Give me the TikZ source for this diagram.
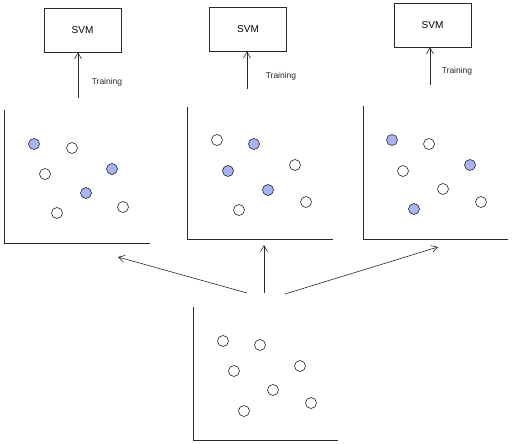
\documentclass[tikz,border=0pt]{standalone}
\usepackage{fontspec}
\setmainfont{Liberation Sans}
\usetikzlibrary{arrows.meta}
\definecolor{ink}{RGB}{40,40,40}
\definecolor{dotblue}{RGB}{168,180,242}
\tikzset{
  svmbox/.style={draw=ink, line width=0.7pt, minimum width=77pt, minimum height=44pt, inner sep=0pt, font=\fontsize{10}{12}\selectfont},
  trainlabel/.style={inner sep=0pt, font=\fontsize{8.5}{10}\selectfont, text=ink},
  axisline/.style={draw=ink, line width=0.7pt},
  pt/.style={circle, draw=ink, line width=0.6pt, minimum size=11pt, inner sep=0pt, fill=white},
  ptb/.style={pt, fill=dotblue},
  arr/.style={draw=ink, line width=0.6pt, -{Straight Barb[length=6pt,width=7pt]}}
}
\begin{document}
\begin{tikzpicture}[x=1pt,y=-1pt]
\useasboundingbox (0,0) rectangle (512,444);
% SVM boxes
\node[svmbox] (s1) at (82.5,30) {SVM};
\node[svmbox] (s2) at (248,29) {SVM};
\node[svmbox] (s3) at (432.5,25) {SVM};
% training arrows
\coordinate (t1) at (78,98);
\coordinate (t2) at (247,89);
\coordinate (t3) at (430,85);
\draw[arr] (t1) -- (t1 |- s1.south);
\draw[arr] (t2) -- (t2 |- s2.south);
\draw[arr] (t3) -- (t3 |- s3.south);
\node[trainlabel] (l1) at (107,82) {Training};
\node[trainlabel] (l2) at (281,76) {Training};
\node[trainlabel] (l3) at (457,71) {Training};
% panel axes
\draw[axisline] (4,110) -- (4,243) -- (150,243);
\draw[axisline] (187,107) -- (187,239) -- (333,239);
\draw[axisline] (363,106) -- (363,239) -- (508,239);
\draw[axisline] (193,307) -- (193,440) -- (338,440);
% panel 1 points
\node[ptb] (a1) at (34,144) {};
\node[pt]  (a2) at (72,148) {};
\node[pt]  (a3) at (45,174) {};
\node[ptb] (a4) at (112,169) {};
\node[ptb] (a5) at (86,193) {};
\node[pt]  (a6) at (57,213) {};
\node[pt]  (a7) at (123,207) {};
% panel 2 points
\node[pt]  (b1) at (217,140) {};
\node[ptb] (b2) at (254,144) {};
\node[ptb] (b3) at (228,171) {};
\node[pt]  (b4) at (295,165) {};
\node[ptb] (b5) at (268,190) {};
\node[pt]  (b6) at (239,210) {};
\node[pt]  (b7) at (306,202) {};
% panel 3 points
\node[ptb] (c1) at (392,140) {};
\node[pt]  (c2) at (429,144) {};
\node[pt]  (c3) at (403,171) {};
\node[ptb] (c4) at (470,165) {};
\node[pt]  (c5) at (443,189) {};
\node[ptb] (c6) at (414,209) {};
\node[pt]  (c7) at (481,202) {};
% bottom panel points
\node[pt] (d1) at (223,341) {};
\node[pt] (d2) at (260,345) {};
\node[pt] (d3) at (234,371) {};
\node[pt] (d4) at (300,366) {};
\node[pt] (d5) at (273,390) {};
\node[pt] (d6) at (244,411) {};
\node[pt] (d7) at (311,403) {};
% split arrows
\coordinate (f1) at (247,293);
\coordinate (f2) at (264,293);
\coordinate (f3) at (285,294);
\coordinate (e1) at (118,257);
\coordinate (e2) at (264,245);
\coordinate (e3) at (438,247);
\draw[arr] (f1) -- (e1);
\draw[arr] (f2) -- (e2);
\draw[arr] (f3) -- (e3);
\end{tikzpicture}
\end{document}
